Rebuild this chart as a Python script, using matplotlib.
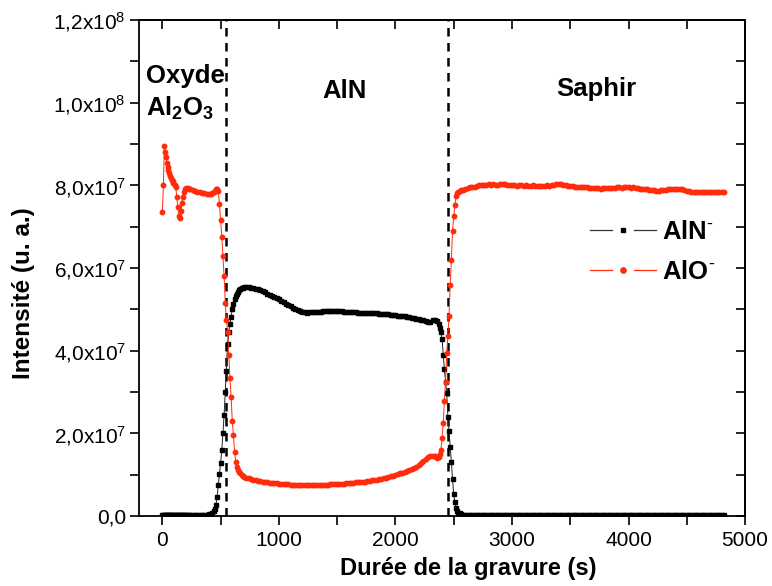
import matplotlib
matplotlib.use("Agg")
import matplotlib.pyplot as plt
from matplotlib.lines import Line2D
from matplotlib.legend_handler import HandlerBase
from matplotlib.ticker import FixedLocator, FixedFormatter, MultipleLocator
import numpy as np

plt.rcParams['font.family'] = ['Liberation Sans', 'DejaVu Sans']
plt.rcParams['mathtext.fontset'] = 'custom'
plt.rcParams['mathtext.rm'] = 'Liberation Sans'
plt.rcParams['mathtext.it'] = 'Liberation Sans:italic'
plt.rcParams['mathtext.bf'] = 'Liberation Sans:bold'

# ---------------- data (intensities in units of 1e7) ----------------
time_s = [
    0, 9, 17, 26, 32, 38, 45, 52, 59, 66, 73, 81, 88, 95, 105, 115, 124, 132, 141, 152,
    160, 168, 176, 186, 196, 206, 216, 226,
    240, 260, 280, 300, 320, 340, 360, 380, 400, 420,
    430, 440, 450, 460, 470, 480, 490, 500, 510, 520, 530, 540, 550, 560, 570, 580,
    590, 600, 610, 620, 630, 640, 650, 660, 670, 680, 690, 700,
    720, 740, 760, 780, 800, 820, 840, 860, 880, 900, 920, 940, 960, 980, 1000, 1020,
    1040, 1060, 1080, 1100, 1120, 1140, 1160, 1180, 1200, 1220, 1240, 1260, 1280, 1300,
    1320, 1340, 1360, 1380, 1400, 1420, 1440, 1460, 1480, 1500, 1520, 1540, 1560, 1580,
    1600, 1620, 1640, 1660, 1680, 1700, 1720, 1740, 1760, 1780, 1800, 1820, 1840, 1860,
    1880, 1900, 1920, 1940, 1960, 1980, 2000, 2020, 2040, 2060, 2080, 2100, 2120, 2140,
    2160, 2180, 2200, 2220, 2240, 2260, 2280, 2300, 2320, 2340, 2360,
    2370, 2380, 2390, 2400, 2410, 2420, 2430, 2440, 2450, 2460, 2470, 2480, 2490, 2500,
    2510, 2520, 2530, 2540, 2550, 2560,
    2580, 2600, 2620, 2640, 2660, 2680, 2700, 2720, 2740, 2760, 2780, 2800, 2820, 2840,
    2860, 2880, 2900, 2920, 2940, 2960, 2980, 3000, 3020, 3040, 3060, 3080, 3100, 3120,
    3140, 3160, 3180, 3200, 3220, 3240, 3260, 3280, 3300, 3320, 3340, 3360, 3380, 3400,
    3420, 3440, 3460, 3480, 3500, 3520, 3540, 3560, 3580, 3600, 3620, 3640, 3660, 3680,
    3700, 3720, 3740, 3760, 3780, 3800, 3820, 3840, 3860, 3880, 3900, 3920, 3940, 3960,
    3980, 4000, 4020, 4040, 4060, 4080, 4100, 4120, 4140, 4160, 4180, 4200, 4220, 4240,
    4260, 4280, 4300, 4320, 4340, 4360, 4380, 4400, 4420, 4440, 4460, 4480, 4500, 4520,
    4540, 4560, 4580, 4600, 4620, 4640, 4660, 4680, 4700, 4720, 4740, 4760, 4780, 4800,
    4820,
]

alo_1e7 = [
    7.36, 8.00, 8.96, 8.81, 8.69, 8.55, 8.45, 8.38, 8.30, 8.23, 8.18, 8.14, 8.10, 8.06,
    8.00, 7.95, 7.72, 7.47, 7.26, 7.21, 7.38, 7.58, 7.72, 7.84, 7.91, 7.94, 7.93, 7.91,
    7.90, 7.88, 7.87, 7.85, 7.84, 7.82, 7.81, 7.80, 7.79, 7.80,
    7.81, 7.83, 7.87, 7.91, 7.90, 7.86, 7.55, 7.15, 6.76, 6.30, 5.80, 5.15, 4.75, 4.45,
    3.90, 3.35, 2.88, 2.30, 1.95, 1.55, 1.30, 1.18, 1.12, 1.07, 1.03, 1.00, 0.97, 0.95,
    0.93, 0.91, 0.89, 0.88, 0.86, 0.85, 0.84, 0.83, 0.82, 0.81,
    0.80, 0.80, 0.79, 0.79, 0.78, 0.78, 0.77, 0.77, 0.77, 0.76,
    0.76, 0.76, 0.75, 0.75, 0.75, 0.75, 0.75, 0.75, 0.75, 0.75,
    0.75, 0.76, 0.76, 0.76, 0.76, 0.76, 0.77, 0.77, 0.77, 0.77,
    0.78, 0.78, 0.78, 0.79, 0.79, 0.80, 0.80, 0.81, 0.81, 0.82,
    0.83, 0.83, 0.84, 0.85, 0.86, 0.87, 0.88, 0.89, 0.90, 0.92,
    0.93, 0.94, 0.96, 0.97, 0.99, 1.01, 1.03, 1.04, 1.06, 1.08,
    1.11, 1.13, 1.16, 1.19, 1.23, 1.28, 1.33, 1.38, 1.42, 1.45,
    1.46, 1.44, 1.40,
    1.43, 1.50, 1.60, 1.88, 2.25, 2.78, 3.25, 3.95, 4.35, 4.85,
    5.59, 6.20, 6.90, 7.25, 7.52, 7.74, 7.81, 7.85, 7.87, 7.88,
    7.89, 7.91, 7.93, 7.95, 7.96, 7.97, 7.99, 8.00, 8.01, 8.00,
    8.01, 8.02, 8.01, 8.02, 8.01, 8.00, 8.02, 8.03, 8.02, 8.01,
    8.01, 8.00, 8.01, 7.99, 8.00, 8.01, 7.99, 8.00, 7.99, 7.98,
    8.00, 7.99, 7.98, 7.99, 7.98, 7.99, 8.00, 7.99, 8.00, 8.01,
    8.02, 8.03, 8.02, 8.01, 8.00, 7.99, 7.98, 7.98, 7.97, 7.97,
    7.96, 7.96, 7.95, 7.95, 7.94, 7.94, 7.93, 7.93, 7.93, 7.92,
    7.93, 7.93, 7.94, 7.94, 7.93, 7.94, 7.95, 7.95, 7.94, 7.95,
    7.96, 7.95, 7.94, 7.95, 7.94, 7.93, 7.92, 7.91, 7.90, 7.90,
    7.89, 7.88, 7.88, 7.87, 7.87, 7.88, 7.88, 7.89, 7.90, 7.90,
    7.91, 7.90, 7.90, 7.91, 7.90, 7.88, 7.87, 7.86, 7.85, 7.85,
    7.84, 7.84, 7.85, 7.84, 7.84, 7.85, 7.84, 7.84, 7.83, 7.84,
    7.83, 7.83, 7.84,
]

aln_1e7 = [
    0.02, 0.02, 0.03, 0.02, 0.02, 0.02, 0.02, 0.03, 0.02, 0.02, 0.02, 0.02, 0.02, 0.02,
    0.02, 0.02, 0.02, 0.02, 0.02, 0.02, 0.02, 0.02, 0.02, 0.02, 0.02, 0.02, 0.02, 0.02,
    0.02, 0.02, 0.02, 0.02, 0.02, 0.03, 0.03, 0.03, 0.04, 0.05,
    0.07, 0.12, 0.18, 0.27, 0.45, 0.75, 1.02, 1.28, 1.60, 2.00, 2.45, 3.00, 3.50, 4.15,
    4.45, 4.65, 4.82, 5.00, 5.12, 5.24, 5.32, 5.38, 5.43, 5.46, 5.49, 5.51, 5.52, 5.53,
    5.53, 5.53, 5.52, 5.51, 5.49, 5.48, 5.46, 5.44, 5.41, 5.38,
    5.35, 5.32, 5.30, 5.27, 5.24, 5.21, 5.17, 5.13, 5.10, 5.07,
    5.04, 5.01, 4.98, 4.95, 4.93, 4.93, 4.92, 4.93, 4.93, 4.93,
    4.94, 4.94, 4.94, 4.95, 4.95, 4.96, 4.96, 4.95, 4.96, 4.95,
    4.95, 4.95, 4.94, 4.94, 4.94, 4.93, 4.93, 4.93, 4.92, 4.92,
    4.92, 4.91, 4.91, 4.91, 4.90, 4.90, 4.90, 4.89, 4.89, 4.89,
    4.88, 4.88, 4.87, 4.87, 4.86, 4.85, 4.85, 4.84, 4.83, 4.82,
    4.81, 4.80, 4.79, 4.77, 4.76, 4.74, 4.73, 4.71, 4.70, 4.70,
    4.73, 4.75, 4.71,
    4.65, 4.55, 4.45, 4.28, 3.90, 3.55, 3.25, 2.98, 2.40, 2.05,
    1.68, 1.30, 0.90, 0.52, 0.33, 0.20, 0.12, 0.08, 0.06, 0.04,
    0.03, 0.03, 0.03, 0.02, 0.03, 0.02, 0.02, 0.02, 0.02, 0.02,
    0.02, 0.02, 0.02, 0.02, 0.02, 0.02, 0.02, 0.02, 0.02, 0.02,
    0.02, 0.02, 0.02, 0.02, 0.02, 0.02, 0.02, 0.02, 0.02, 0.02,
    0.02, 0.02, 0.02, 0.02, 0.02, 0.02, 0.02, 0.02, 0.02, 0.02,
    0.02, 0.02, 0.02, 0.02, 0.02, 0.02, 0.02, 0.02, 0.02, 0.02,
    0.02, 0.02, 0.02, 0.02, 0.02, 0.02, 0.02, 0.02, 0.02, 0.02,
    0.02, 0.02, 0.02, 0.02, 0.02, 0.02, 0.02, 0.02, 0.02, 0.02,
    0.02, 0.02, 0.02, 0.02, 0.02, 0.02, 0.02, 0.02, 0.02, 0.02,
    0.02, 0.02, 0.02, 0.02, 0.02, 0.02, 0.02, 0.02, 0.02, 0.02,
    0.02, 0.02, 0.02, 0.02, 0.02, 0.02, 0.02, 0.02, 0.02, 0.02,
    0.02, 0.02, 0.02, 0.02, 0.02, 0.02, 0.02, 0.02, 0.02, 0.02,
    0.02, 0.02, 0.02,
]

interfaces_s = [544, 2450]
region_names = ["Oxyde", r"$\mathbf{Al_2O_3}$", "AlN", "Saphir"]
series_labels = [r"AlN$^{\text{-}}$", r"AlO$^{\text{-}}$"]

xticks_major = [0, 1000, 2000, 3000, 4000, 5000]
xtick_labels = ["0", "1000", "2000", "3000", "4000", "5000"]
yticks_major = [0, 2e7, 4e7, 6e7, 8e7, 1.0e8, 1.2e8]
ytick_labels = ["0,0", r"2,0x10$^{7}$", r"4,0x10$^{7}$", r"6,0x10$^{7}$",
                r"8,0x10$^{7}$", r"1,0x10$^{8}$", r"1,2x10$^{8}$"]

RED = '#ff2b0a'


class BrokenLineHandler(HandlerBase):
    """Origin-style legend handle: line - gap with marker - line."""
    def create_artists(self, legend, orig_handle, xdescent, ydescent,
                       width, height, fontsize, trans):
        y = height / 2.0 - ydescent
        x0 = -xdescent
        x1 = x0 + width
        seg = width / 3.0
        col = orig_handle.get_color()
        lw = orig_handle.get_linewidth()
        l1 = Line2D([x0, x0 + seg], [y, y], color=col, lw=lw)
        l2 = Line2D([x1 - seg, x1], [y, y], color=col, lw=lw)
        m = Line2D([x0 + width / 2.0], [y], ls='none',
                   marker=orig_handle.get_marker(),
                   ms=orig_handle.get_markersize(),
                   mfc=orig_handle.get_markerfacecolor(),
                   mec=orig_handle.get_markeredgecolor())
        for a in (l1, l2, m):
            a.set_transform(trans)
        return [l1, l2, m]


# ---------------- figure ----------------
fig = plt.figure(figsize=(7.72, 5.86), dpi=100)
ax = fig.add_axes([0.1801, 0.1195, 0.785, 0.8464])

t = np.array(time_s, dtype=float)
aln = np.array(aln_1e7) * 1e7
alo = np.array(alo_1e7) * 1e7

ax.plot(t, aln, color='#222222', lw=0.7, marker='s', ms=2.6, mec='black',
        mfc='black', zorder=3)
ax.plot(t, alo, color=RED, lw=0.7, marker='o', ms=3.2, mec=RED, mfc=RED,
        zorder=4)

for xi in interfaces_s:
    ax.axvline(xi, color='black', lw=1.8, ls=(0, (3.4, 2.6)), zorder=2)

ax.set_xlim(-200, 5000)
ax.set_ylim(0, 1.2e8)

ax.xaxis.set_major_locator(FixedLocator(xticks_major))
ax.xaxis.set_major_formatter(FixedFormatter(xtick_labels))
ax.xaxis.set_minor_locator(MultipleLocator(500))
ax.yaxis.set_major_locator(FixedLocator(yticks_major))
ax.yaxis.set_major_formatter(FixedFormatter(ytick_labels))
ax.yaxis.set_minor_locator(MultipleLocator(1e7))

for sp in ax.spines.values():
    sp.set_linewidth(1.3)

ax.tick_params(which='both', direction='out', length=6.5, width=1.2,
               labelsize=15, top=False, right=False)
ax.tick_params(axis='x', which='major', pad=4)
ax.tick_params(axis='y', which='major', pad=3)
# mirrored inward ticks on top/right
axt = ax.secondary_xaxis('top')
axt.xaxis.set_major_locator(FixedLocator(xticks_major))
axt.xaxis.set_minor_locator(MultipleLocator(500))
axt.tick_params(which='both', direction='in', length=6.5, width=1.2, labeltop=False)
axr = ax.secondary_yaxis('right')
axr.yaxis.set_major_locator(FixedLocator(yticks_major))
axr.yaxis.set_minor_locator(MultipleLocator(1e7))
axr.tick_params(which='both', direction='in', length=6.5, width=1.2, labelright=False)
for sa in (axt, axr):
    for sp in sa.spines.values():
        sp.set_linewidth(1.3)

ax.set_xlabel("Durée de la gravure (s)", fontsize=17, fontweight='bold')
ax.xaxis.set_label_coords(0.544, -0.083)
ax.set_ylabel("Intensité (u. a.)", fontsize=17.5, fontweight='bold')
ax.yaxis.set_label_coords(-0.172, 0.449)

# region labels
RFS = 18.5
ax.text(-140, 10.47e7, region_names[0], fontsize=RFS, fontweight='bold',
        ha='left', va='baseline')
ax.text(-140, 9.67e7, region_names[1], fontsize=RFS, fontweight='bold',
        ha='left', va='baseline')
ax.text(1560, 10.12e7, region_names[2], fontsize=RFS, fontweight='bold',
        ha='center', va='baseline')
ax.text(3722, 10.16e7, region_names[3], fontsize=RFS, fontweight='bold',
        ha='center', va='baseline')

# legend with broken line handles
h_aln = Line2D([], [], color='#333333', lw=0.9, marker='s', ms=3.2,
               mfc='black', mec='black')
h_alo = Line2D([], [], color=RED, lw=0.9, marker='o', ms=3.8,
               mfc=RED, mec=RED)
leg = ax.legend([h_aln, h_alo], series_labels,
                handler_map={Line2D: BrokenLineHandler()},
                loc='center left', bbox_to_anchor=(590 / 772, 1 - 252 / 586),
                bbox_transform=fig.transFigure, frameon=False, borderpad=0,
                borderaxespad=0, handlelength=2.55, handletextpad=0.25,
                labelspacing=0.62, prop={'size': 18.5, 'weight': 'bold'})

fig.savefig("out.png", dpi=100)
